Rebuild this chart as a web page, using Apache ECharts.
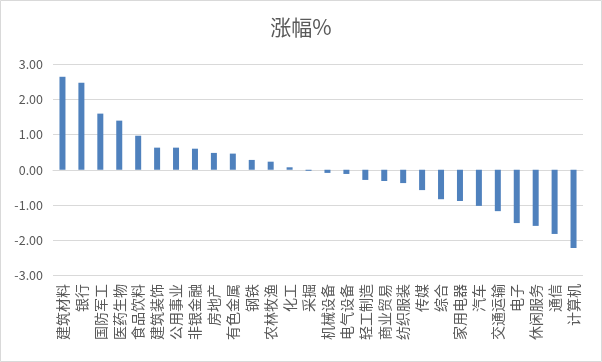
<!DOCTYPE html>
<html><head><meta charset="utf-8">
<script src="https://cdn.jsdelivr.net/npm/echarts@6/dist/echarts.min.js"></script>
<style>html,body{margin:0;padding:0;background:#fff;}#c{width:602px;height:362px;}</style>
</head><body><div id="c"></div>
<script>
const categories = ['建筑材料','银行','国防军工','医药生物','食品饮料','建筑装饰','公用事业','非银金融','房地产','有色金属','钢铁','农林牧渔','化工','采掘','机械设备','电气设备','轻工制造','商业贸易','纺织服装','传媒','综合','家用电器','汽车','交通运输','电子','休闲服务','通信','计算机'];
const values = [2.65,2.48,1.60,1.40,0.97,0.63,0.63,0.60,0.48,0.46,0.28,0.23,0.07,-0.03,-0.09,-0.12,-0.29,-0.32,-0.38,-0.58,-0.84,-0.89,-1.03,-1.18,-1.52,-1.60,-1.83,-2.23];
const titleText = '涨幅%';
const font = '"Noto Sans CJK SC", "Microsoft YaHei", sans-serif';
const chart = echarts.init(document.getElementById('c'));
chart.setOption({
  animation: false,
  backgroundColor: '#fff',
  graphic: [{type:'rect', shape:{x:0.5,y:0.5,width:601,height:361}, style:{fill:'none', stroke:'#d9d9d9', lineWidth:1}, silent:true}],
  title: {text: titleText, left: 'center', top: 12, textStyle:{fontFamily: font, fontSize: 21, fontWeight: 'normal', color:'#595959'}},
  grid: {left: 53, right: 19, top: 64.5, bottom: 87, containLabel: false},
  xAxis: {
    type: 'category', data: categories,
    axisLine: {show: true, onZero: true, lineStyle: {color: '#d9d9d9'}},
    axisTick: {show: false},
    axisLabel: {rotate: 90, interval: 0, color: '#595959', fontFamily: font, fontSize: 14, margin: 9}
  },
  yAxis: {
    type: 'value', min: -3, max: 3, interval: 1,
    axisLine: {show: false}, axisTick: {show: false},
    axisLabel: {formatter: v => v.toFixed(2), color: '#595959', fontFamily: font, fontSize: 12.5, margin: 10},
    splitLine: {lineStyle: {color: '#d9d9d9'}}
  },
  series: [{type: 'bar', data: values, barWidth: 6, itemStyle: {color: '#4f81bd'}}]
});
</script></body></html>
